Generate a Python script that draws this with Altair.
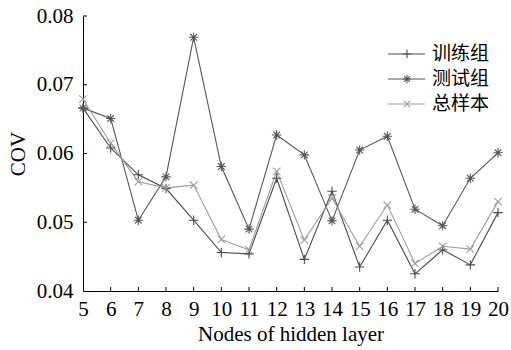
import altair as alt
import pandas as pd

nodes = list(range(5, 21))
train = [0.0666, 0.0608, 0.0569, 0.0549, 0.0503, 0.0456, 0.0454, 0.0564,
         0.0446, 0.0545, 0.0435, 0.0503, 0.0425, 0.0460, 0.0438, 0.0514]
test = [0.0666, 0.0651, 0.0503, 0.0566, 0.0769, 0.0581, 0.0490, 0.0627,
        0.0598, 0.0502, 0.0605, 0.0625, 0.0519, 0.0495, 0.0564, 0.0601]
total = [0.0679, 0.0615, 0.0559, 0.0550, 0.0554, 0.0475, 0.0460, 0.0574,
         0.0474, 0.0535, 0.0465, 0.0525, 0.0440, 0.0465, 0.0461, 0.0530]
y_ticks = [0.04, 0.05, 0.06, 0.07, 0.08]
series_names = ["训练组", "测试组", "总样本"]
colors = ["#4a4a4a", "#555555", "#9c9c9c"]

PLUS = "M-1,0L1,0M0,-1L0,1"
STAR = "M-1,0L1,0M0,-1L0,1M-0.7,-0.7L0.7,0.7M-0.7,0.7L0.7,-0.7"
XS = "M-0.8,-0.8L0.8,0.8M-0.8,0.8L0.8,-0.8"
shapes = [PLUS, STAR, XS]

rows = []
for name, vals in zip(series_names, [train, test, total]):
    for n, v in zip(nodes, vals):
        rows.append({"nodes": n, "cov": v, "series": name})
df = pd.DataFrame(rows)
xticks_df = pd.DataFrame({"nodes": nodes[1:]})
yticks_df = pd.DataFrame({"cov": y_ticks[1:]})
leg_df = pd.DataFrame({"series": series_names})

W, H = 415, 275
SERIF = "Liberation Serif"
FS = 21

xscale = alt.Scale(domain=[5, 20], nice=False, zero=False)
yscale = alt.Scale(domain=[0.04, 0.08], nice=False, zero=False)
color = alt.Color("series:N", scale=alt.Scale(domain=series_names, range=colors), legend=None)
shape = alt.Shape("series:N", scale=alt.Scale(domain=series_names, range=shapes), legend=None)

xaxis = alt.Axis(values=nodes, title="Nodes of hidden layer", grid=False, ticks=False,
                 labelOverlap=False, labelFont=SERIF, labelFontSize=FS, labelColor="black",
                 titleFont=SERIF, titleFontSize=FS, titleFontWeight="normal", titleColor="black",
                 labelPadding=7, titlePadding=4, domainColor="black", labelAngle=0, labelFlush=False)
yaxis = alt.Axis(values=y_ticks, format=".2f", title="COV", grid=False,
                 ticks=False, labelFont=SERIF, labelFontSize=FS, labelColor="black",
                 titleFont=SERIF, titleFontSize=FS, titleFontWeight="normal", titleColor="black",
                 labelPadding=10, titlePadding=8, domainColor="black", labelFlush=False)

X = alt.X("nodes:Q", scale=xscale, axis=xaxis)

lines = alt.Chart(df).mark_line(strokeWidth=1.1).encode(
    x=X,
    y=alt.Y("cov:Q", scale=yscale, axis=yaxis),
    color=color, detail="series:N")
points = alt.Chart(df).mark_point(filled=False, strokeWidth=1.1, size=90, opacity=1).encode(
    x=X,
    y=alt.Y("cov:Q", scale=yscale, axis=None),
    color=color, shape=shape)
xticks = alt.Chart(xticks_df).mark_rule(color="black", strokeWidth=1).encode(
    x=X, y=alt.value(H), y2=alt.value(H - 4))
yticks = alt.Chart(yticks_df).mark_rule(color="black", strokeWidth=1).encode(
    y=alt.Y("cov:Q", scale=yscale, axis=None), x=alt.value(0), x2=alt.value(4))

ly = alt.Y("series:N", scale=alt.Scale(type="point", domain=series_names, range=[38, 88], padding=0),
           axis=None)
leg_line = alt.Chart(leg_df).mark_rule(strokeWidth=1.2).encode(
    x=alt.value(305), x2=alt.value(342), y=ly, color=color)
leg_pt = alt.Chart(leg_df).mark_point(filled=False, strokeWidth=1.1, size=70, opacity=1).encode(
    x=alt.value(324), y=ly, color=color, shape=shape)
leg_txt = alt.Chart(leg_df).mark_text(align="left", baseline="middle", font="Noto Sans CJK SC",
                                      fontSize=19, color="black").encode(
    x=alt.value(349), y=ly, text="series:N")

chart = alt.layer(lines, points, xticks, yticks, leg_line, leg_pt, leg_txt).resolve_scale(
    y="independent").properties(
    width=W, height=H,
    autosize=alt.AutoSizeParams(type="none"),
    padding={"left": 83, "top": 16, "right": 13, "bottom": 59},
    background="white",
).configure_view(stroke=None)

chart.save("out.html", embed_options={"renderer": "svg", "actions": False})
